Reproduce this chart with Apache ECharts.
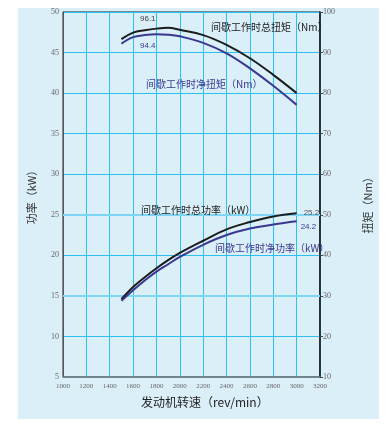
<!DOCTYPE html>
<html>
<head>
<meta charset="utf-8">
<script src="https://cdn.jsdelivr.net/npm/echarts@6/dist/echarts.min.js"></script>
<style>
html,body{margin:0;padding:0;background:#fff;}
#c{width:390px;height:428px;}
</style>
</head>
<body>
<div id="c"></div>
<script>
const rpm = [1500, 1600, 1700, 1800, 1900, 2000, 2200, 2400, 2600, 2800, 3000];
const grossTorque = [93.3, 94.9, 95.5, 95.9, 96.1, 95.6, 94.3, 91.9, 88.6, 84.5, 80.0];
const netTorque = [92.2, 93.8, 94.3, 94.5, 94.4, 94.0, 92.4, 89.8, 86.1, 81.8, 77.1];
const grossPower = [14.6, 16.1, 17.3, 18.4, 19.4, 20.3, 21.8, 23.2, 24.1, 24.8, 25.2];
const netPower = [14.4, 15.7, 16.9, 18.0, 18.9, 19.8, 21.3, 22.5, 23.3, 23.8, 24.2];
const xTicks = [1000, 1200, 1400, 1600, 1800, 2000, 2200, 2400, 2600, 2800, 3000, 3200];
const powerTicks = [5, 10, 15, 20, 25, 30, 35, 40, 45, 50];
const torqueTicks = [10, 20, 30, 40, 50, 60, 70, 80, 90, 100];
const peakGrossTorqueLabel = '96.1';
const peakNetTorqueLabel = '94.4';
const peakLabelIdx = 2;

const BLACK = '#1c1c1c';
const PURPLE = '#3a3790';
const CJK = '"Noto Sans CJK SC", "Noto Sans", sans-serif';
const SERIF = '"Liberation Serif", "DejaVu Serif", serif';
const SANS = '"Liberation Sans", sans-serif';

function pairs(ys) {
  return rpm.map((x, i) => [x, ys[i]]);
}

const chart = echarts.init(document.getElementById('c'), null, { renderer: 'canvas' });

chart.setOption({
  animation: false,
  backgroundColor: '#ffffff',
  graphic: [
    { type: 'rect', z: -10, shape: { x: 18, y: 8, width: 361, height: 411 }, style: { fill: '#dbeff9' } },
    { type: 'text', left: 141, top: 396, style: { text: '发动机转速（rev/min）', font: '12px ' + CJK, fill: '#222' } },
    { type: 'text', left: 211, top: 22, z: 50, style: { text: '间歇工作时总扭矩（Nm）', font: '10px ' + CJK, fill: BLACK } },
    { type: 'text', left: 146, top: 79, z: 50, style: { text: '间歇工作时净扭矩（Nm）', font: '10px ' + CJK, fill: PURPLE } },
    { type: 'text', left: 141, top: 205, z: 50, style: { text: '间歇工作时总功率（kW）', font: '10px ' + CJK, fill: BLACK } },
    { type: 'text', left: 215, top: 243, z: 50, style: { text: '间歇工作时净功率（kW）', font: '10px ' + CJK, fill: PURPLE } }
  ],
  grid: {
    left: 63, right: 70, top: 12, bottom: 51,
    show: true, backgroundColor: '#dbeff9', borderColor: '#222', borderWidth: 1
  },
  xAxis: {
    type: 'value', min: xTicks[0], max: xTicks[xTicks.length - 1], interval: 200,
    axisLine: { show: true, lineStyle: { color: '#7a7a7a', width: 1.5 } },
    axisTick: { show: false },
    axisLabel: { fontSize: 7, fontFamily: SERIF, color: '#666', margin: 6, showMinLabel: true, showMaxLabel: true, formatter: v => String(v) },
    splitLine: { show: true, lineStyle: { color: '#2cc0ef', width: 1 } }
  },
  yAxis: [
    {
      type: 'value', position: 'left', min: powerTicks[0], max: powerTicks[powerTicks.length - 1], interval: 5,
      name: '功率（kW）', nameLocation: 'middle', nameGap: 26, nameRotate: 90,
      nameTextStyle: { fontFamily: CJK, fontSize: 11, color: '#333' },
      axisLine: { show: true, lineStyle: { color: '#555', width: 1 } },
      axisTick: { show: false },
      axisLabel: { fontSize: 8, fontFamily: SERIF, color: '#666', margin: 4 },
      splitLine: { show: true, lineStyle: { color: '#2cc0ef', width: 1 } }
    },
    {
      type: 'value', position: 'right', min: torqueTicks[0], max: torqueTicks[torqueTicks.length - 1], interval: 10,
      name: '扭矩（Nm）', nameLocation: 'middle', nameGap: 42, nameRotate: 90,
      nameTextStyle: { fontFamily: CJK, fontSize: 11, color: '#333', padding: [0, 0, 0, -16] },
      axisLine: { show: true, lineStyle: { color: '#111', width: 1.5 } },
      axisTick: { show: true, length: 3, lineStyle: { color: '#444' } },
      axisLabel: { fontSize: 8, fontFamily: SERIF, color: '#666', margin: 3 },
      splitLine: { show: false }
    }
  ],
  series: [
    {
      name: '间歇工作时总扭矩', type: 'line', yAxisIndex: 1, smooth: 0.4, showSymbol: false, z: 5,
      lineStyle: { color: BLACK, width: 2 }, itemStyle: { color: BLACK },
      markPoint: {
        symbol: 'circle', symbolSize: 1, itemStyle: { color: 'rgba(0,0,0,0)' },
        label: { show: true, position: 'top', distance: 7, offset: [3, 0], formatter: peakGrossTorqueLabel, fontSize: 8, fontFamily: SANS, color: '#444' },
        data: [{ coord: [rpm[peakLabelIdx], grossTorque[peakLabelIdx]] }]
      },
      data: pairs(grossTorque)
    },
    {
      name: '间歇工作时净扭矩', type: 'line', yAxisIndex: 1, smooth: 0.4, showSymbol: false, z: 5,
      lineStyle: { color: PURPLE, width: 2 }, itemStyle: { color: PURPLE },
      markPoint: {
        symbol: 'circle', symbolSize: 1, itemStyle: { color: 'rgba(0,0,0,0)' },
        label: { show: true, position: 'bottom', distance: 6, offset: [3, 0], formatter: peakNetTorqueLabel, fontSize: 8, fontFamily: SANS, color: PURPLE },
        data: [{ coord: [rpm[peakLabelIdx], netTorque[peakLabelIdx]] }]
      },
      data: pairs(netTorque)
    },
    {
      name: '间歇工作时总功率', type: 'line', yAxisIndex: 0, smooth: 0.4, showSymbol: false, z: 5,
      lineStyle: { color: BLACK, width: 2 }, itemStyle: { color: BLACK },
      endLabel: { show: true, formatter: p => p.value[1].toFixed(1), fontSize: 8, fontFamily: SANS, color: '#555', distance: 7, offset: [0, 0] },
      markLine: {
        silent: true, symbol: 'none', z: 1, label: { show: false },
        lineStyle: { color: '#7fd5f4', width: 2, type: 'solid' },
        data: [{ yAxis: 15 }, { yAxis: 25 }]
      },
      data: pairs(grossPower)
    },
    {
      name: '间歇工作时净功率', type: 'line', yAxisIndex: 0, smooth: 0.4, showSymbol: false, z: 6,
      lineStyle: { color: PURPLE, width: 2 }, itemStyle: { color: PURPLE },
      endLabel: { show: true, formatter: p => p.value[1].toFixed(1), fontSize: 8, fontFamily: SANS, color: PURPLE, distance: 4, offset: [0, 6] },
      data: pairs(netPower)
    }
  ]
});
</script>
</body>
</html>
